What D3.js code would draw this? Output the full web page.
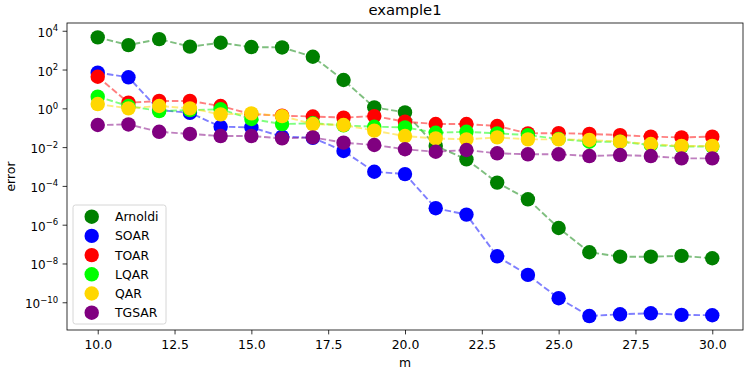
<!DOCTYPE html>
<html>
<head>
<meta charset="utf-8">
<script src="https://cdn.jsdelivr.net/npm/d3@7"></script>
<style>
  body { margin: 0; background: #fff; }
  text { font-family: "DejaVu Sans", sans-serif; fill: #000; }
</style>
</head>
<body>
<div id="chart"></div>
<script>
// m values on the x axis
const mValues = d3.range(10, 31);

// log10(error), one array per method
const arnoldi = [3.66, 3.26, 3.57, 3.18, 3.38, 3.16, 3.14, 2.66, 1.46, 0.05, -0.21,
  -1.94, -2.63, -3.83, -4.69, -6.17, -7.42, -7.65, -7.65, -7.61, -7.73];
const soar = [1.84, 1.60, -0.09, -0.23, -0.95, -0.98, -1.46, -1.52, -2.20, -3.27, -3.39,
  -5.15, -5.48, -7.63, -8.59, -9.79, -10.71, -10.62, -10.57, -10.65, -10.67];
const toar = [1.63, 0.29, 0.38, 0.38, 0.12, -0.30, -0.38, -0.42, -0.48, -0.40, -0.69,
  -0.81, -0.81, -0.91, -1.29, -1.28, -1.32, -1.38, -1.46, -1.50, -1.46];
const lqar = [0.60, 0.12, -0.14, -0.09, -0.05, -0.55, -0.81, -0.77, -0.88, -0.95, -0.98,
  -1.26, -1.21, -1.29, -1.38, -1.58, -1.72, -1.72, -1.89, -1.97, -1.97];
const qar = [0.22, 0.0, 0.12, 0.0, -0.31, -0.26, -0.40, -0.81, -0.86, -1.15, -1.43,
  -1.55, -1.60, -1.50, -1.60, -1.60, -1.63, -1.72, -1.84, -1.94, -1.94];
const tgsar = [-0.86, -0.83, -1.21, -1.32, -1.43, -1.43, -1.55, -1.50, -1.77, -1.89, -2.11,
  -2.24, -2.15, -2.32, -2.37, -2.37, -2.46, -2.41, -2.46, -2.58, -2.58];

const seriesNames = ["Arnoldi", "SOAR", "TOAR", "LQAR", "QAR", "TGSAR"];
const seriesColors = ["green", "blue", "red", "lime", "gold", "purple"];
const seriesValues = [arnoldi, soar, toar, lqar, qar, tgsar];

const xTicks = [10, 12.5, 15, 17.5, 20, 22.5, 25, 27.5, 30];
const yTickExps = [-10, -8, -6, -4, -2, 0, 2, 4];

const width = 747, height = 374;
const margin = { top: 23, right: 4, bottom: 44, left: 67 };
const innerWidth = width - margin.left - margin.right;
const innerHeight = height - margin.top - margin.bottom;

const svg = d3.select("#chart")
  .append("svg")
  .attr("width", width)
  .attr("height", height);

const inner = svg.append("g")
  .attr("transform", `translate(${margin.left},${margin.top})`);

const xScale = d3.scaleLinear().domain([9, 31]).range([0, innerWidth]);
const yScale = d3.scaleLog().domain([Math.pow(10, -11.43), Math.pow(10, 4.40)]).range([innerHeight, 0]);

// Lines and markers, series by series (so later series sit on top)
const line = d3.line()
  .x(d => xScale(d.m))
  .y(d => yScale(d.v));

seriesNames.forEach((name, i) => {
  const pts = mValues.map((m, j) => ({ m: m, v: Math.pow(10, seriesValues[i][j]) }));
  const g = inner.append("g");
  g.append("path")
    .attr("d", line(pts))
    .attr("fill", "none")
    .attr("stroke", seriesColors[i])
    .attr("stroke-opacity", 0.5)
    .attr("stroke-width", 1.9)
    .attr("stroke-dasharray", "6.5,2.8");
  g.selectAll("circle")
    .data(pts)
    .join("circle")
    .attr("cx", d => xScale(d.m))
    .attr("cy", d => yScale(d.v))
    .attr("r", 7.2)
    .attr("fill", seriesColors[i]);
});

// Axes
const bottomAxis = d3.axisBottom(xScale)
  .tickValues(xTicks)
  .tickFormat(d3.format(".1f"))
  .tickSize(4.4)
  .tickPadding(5.6);
const xAxisG = inner.append("g")
  .attr("transform", `translate(0,${innerHeight})`)
  .call(bottomAxis);

const leftAxis = d3.axisLeft(yScale)
  .tickValues(yTickExps.map(e => Math.pow(10, e)))
  .tickFormat("")
  .tickSize(4.4);
const yAxisG = inner.append("g").call(leftAxis);

[xAxisG, yAxisG].forEach(g => {
  g.select(".domain").remove();
  g.selectAll("line").attr("stroke", "#000").attr("stroke-width", 0.8);
  g.selectAll("text").style("font-size", "12.4px").attr("fill", "#000");
});

// y tick labels with superscripts
yTickExps.forEach(e => {
  const t = inner.append("text")
    .attr("x", -8.8)
    .attr("y", yScale(Math.pow(10, e)) + 6)
    .attr("text-anchor", "end")
    .style("font-size", "12px");
  t.append("tspan").text("10");
  t.append("tspan")
    .attr("dy", -5.5)
    .style("font-size", "8.5px")
    .text(e < 0 ? "\u2212" + Math.abs(e) : e);
});

// Frame
inner.append("rect")
  .attr("width", innerWidth)
  .attr("height", innerHeight)
  .attr("fill", "none")
  .attr("stroke", "#000")
  .attr("stroke-width", 0.8);

// Labels
svg.append("text")
  .text("example1")
  .attr("x", margin.left + innerWidth / 2)
  .attr("y", 15)
  .attr("text-anchor", "middle")
  .style("font-size", "14.8px");

svg.append("text")
  .text("m")
  .attr("x", margin.left + innerWidth / 2)
  .attr("y", 367)
  .attr("text-anchor", "middle")
  .style("font-size", "12.4px");

svg.append("text")
  .text("error")
  .attr("transform", `translate(14.5,${margin.top + innerHeight / 2}) rotate(-90)`)
  .attr("text-anchor", "middle")
  .style("font-size", "12.4px");

// Legend
const legend = svg.append("g")
  .attr("transform", `translate(73,205)`);
legend.append("rect")
  .attr("width", 93)
  .attr("height", 119)
  .attr("rx", 2.5)
  .attr("fill", "#fff")
  .attr("fill-opacity", 0.8)
  .attr("stroke", "#ccc")
  .attr("stroke-width", 0.8);

seriesNames.forEach((name, i) => {
  const g = legend.append("g")
    .attr("transform", `translate(0, ${11.7 + i * 19.2})`);
  g.append("circle")
    .attr("cx", 18.7)
    .attr("cy", 0)
    .attr("r", 7.2)
    .attr("fill", seriesColors[i]);
  g.append("text")
    .attr("x", 42)
    .attr("y", 4.5)
    .text(name)
    .style("font-size", "12.4px");
});
</script>
</body>
</html>
